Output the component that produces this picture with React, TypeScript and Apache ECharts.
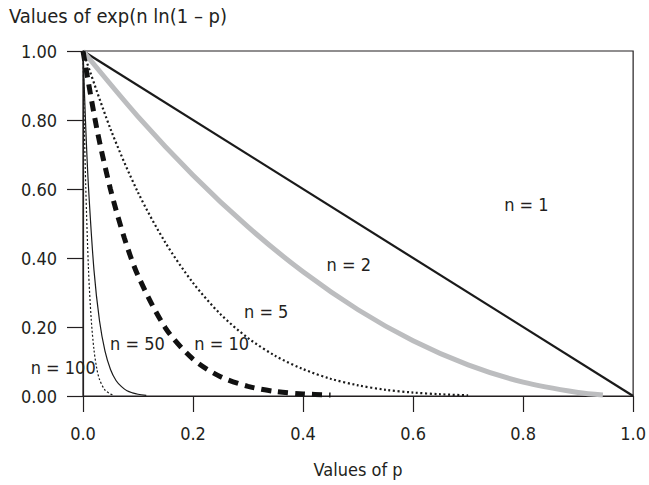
import React, { useEffect, useRef } from "react";
import * as echarts from "echarts";

const FONT = '"Liberation Sans Narrow", "DejaVu Sans Condensed", "Noto Sans", sans-serif';

const xAxisTitle = "Values of p";
const yAxisTitle = "Values of exp(n ln(1 – p)";

const pN1 = [0, 1];
const vN1 = [1, 0];

const pN2 = [0, 0.1, 0.2, 0.3, 0.4, 0.5, 0.6, 0.7, 0.8, 0.9, 0.945];
const vN2 = [1, 0.81, 0.64, 0.49, 0.36, 0.25, 0.16, 0.09, 0.04, 0.01, 0.003];

const pN5 = [0, 0.05, 0.1, 0.15, 0.2, 0.25, 0.3, 0.35, 0.4, 0.45, 0.5, 0.55, 0.6, 0.65, 0.7];
const vN5 = [1, 0.774, 0.59, 0.444, 0.328, 0.237, 0.168, 0.116, 0.078, 0.05, 0.031, 0.018, 0.01, 0.005, 0.002];

const pN10 = [0, 0.025, 0.05, 0.075, 0.1, 0.15, 0.2, 0.25, 0.3, 0.35, 0.4, 0.45];
const vN10 = [1, 0.776, 0.599, 0.459, 0.349, 0.197, 0.107, 0.056, 0.028, 0.013, 0.006, 0.003];

const pN50 = [0, 0.005, 0.01, 0.02, 0.03, 0.04, 0.05, 0.06, 0.07, 0.08, 0.09, 0.1, 0.115];
const vN50 = [1, 0.778, 0.605, 0.364, 0.218, 0.13, 0.077, 0.045, 0.027, 0.015, 0.009, 0.005, 0.002];

const pN100 = [0, 0.0025, 0.005, 0.01, 0.015, 0.02, 0.025, 0.03, 0.04, 0.05, 0.055];
const vN100 = [1, 0.779, 0.606, 0.366, 0.221, 0.133, 0.08, 0.048, 0.017, 0.006, 0.003];

const curveNames = ["n = 1", "n = 2", "n = 5", "n = 10", "n = 50", "n = 100"];
const labelP = [0.806, 0.483, 0.333, 0.252, 0.099, -0.036];
const labelV = [0.554, 0.38, 0.246, 0.151, 0.151, 0.084];

const zip = (xs: number[], ys: number[]) => xs.map((x, i) => [x, ys[i]]);

export default function App() {
  const ref = useRef<HTMLDivElement>(null);
  useEffect(() => {
    if (!ref.current) return;
    const chart = echarts.init(ref.current, null, { renderer: "svg" });
    const textColor = "#231f20";
    const axisColor = "#231f20";
    const series: any[] = [
      { name: curveNames[0], data: zip(pN1, vN1), lineStyle: { color: "#1a1a1a", width: 2.2, type: "solid" }, smooth: false },
      { name: curveNames[1], data: zip(pN2, vN2), lineStyle: { color: "#bcbdbf", width: 5, type: "solid" }, smooth: 0.3 },
      { name: curveNames[2], data: zip(pN5, vN5), lineStyle: { color: "#1a1a1a", width: 2.2, type: [2, 2.6] }, smooth: 0.3 },
      { name: curveNames[3], data: zip(pN10, vN10), lineStyle: { color: "#111", width: 5, type: [10, 7], cap: "butt" }, smooth: 0.3 },
      { name: curveNames[4], data: zip(pN50, vN50), lineStyle: { color: "#1a1a1a", width: 1.2, type: "solid" }, smooth: 0.3 },
      { name: curveNames[5], data: zip(pN100, vN100), lineStyle: { color: "#1a1a1a", width: 1.2, type: [2, 2] }, smooth: 0.3 },
    ].map((s) => ({ ...s, type: "line", showSymbol: false, symbol: "none", z: 3 }));

    chart.setOption({
      animation: false,
      backgroundColor: "#ffffff",
      grid: { left: 83, top: 51, right: 11, bottom: 89, show: true, borderColor: axisColor, borderWidth: 1.2, backgroundColor: "transparent" },
      xAxis: {
        type: "value",
        min: 0,
        max: 1,
        interval: 0.2,
        name: xAxisTitle,
        nameLocation: "middle",
        nameGap: 64,
        nameTextStyle: { fontFamily: FONT, fontSize: 18, color: textColor },
        axisLine: { show: true, lineStyle: { color: axisColor, width: 1.2 } },
        axisTick: { show: true, inside: false, length: 16, lineStyle: { color: axisColor, width: 1.2 } },
        axisLabel: { fontFamily: FONT, fontSize: 18, color: textColor, margin: 28, formatter: (v: number) => v.toFixed(1) },
        splitLine: { show: false },
      },
      yAxis: {
        type: "value",
        min: 0,
        max: 1,
        interval: 0.2,
        axisLine: { show: true, lineStyle: { color: axisColor, width: 1.2 } },
        axisTick: { show: true, inside: false, length: 16, lineStyle: { color: axisColor, width: 1.2 } },
        axisLabel: { fontFamily: FONT, fontSize: 18, color: textColor, margin: 26, formatter: (v: number) => v.toFixed(2) },
        splitLine: { show: false },
      },
      series,
    });

    const labels = curveNames.map((name, i) => {
      const pt = chart.convertToPixel({ gridIndex: 0 }, [labelP[i], labelV[i]]) as number[];
      return {
        type: "text",
        x: pt[0],
        y: pt[1],
        z: 10,
        style: { text: name, fontFamily: FONT, fontSize: 18, fill: textColor, align: "center", verticalAlign: "middle" },
      };
    });
    chart.setOption({
      graphic: [
        {
          type: "text",
          left: 9,
          top: 6,
          style: { text: yAxisTitle, fontFamily: FONT, fontSize: 20, fill: textColor },
        },
        ...labels,
      ],
    });
    return () => chart.dispose();
  }, []);
  return <div ref={ref} style={{ position: "absolute", left: 0, top: 0, width: 649, height: 485 }} />;
}
